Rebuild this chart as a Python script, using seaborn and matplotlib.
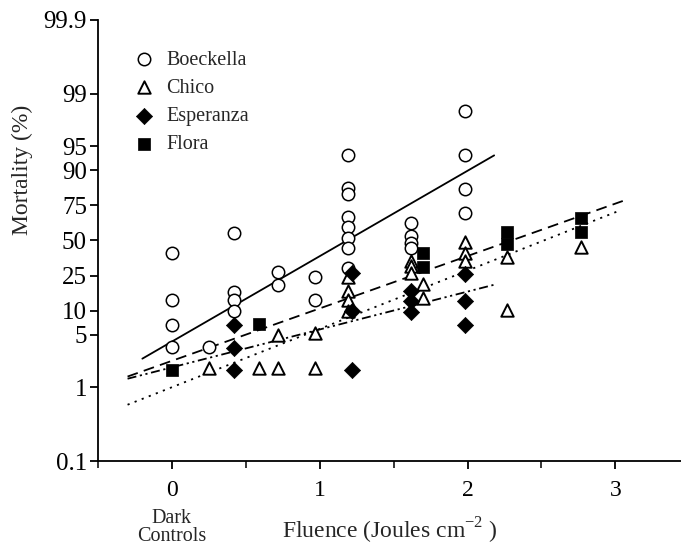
import numpy as np
import pandas as pd
import matplotlib
matplotlib.use("Agg")
import matplotlib.pyplot as plt
from matplotlib.ticker import FixedLocator, NullLocator
import seaborn as sns

# ---------------- data (x = fluence J cm^-2, y = mortality %) ----------------
boeck_x = [0, 0, 0, 0, 0.25, 0.42, 0.42, 0.42, 0.42, 0.72, 0.72, 0.97, 0.97,
           1.19, 1.19, 1.19, 1.19, 1.19, 1.19, 1.19, 1.19,
           1.62, 1.62, 1.62, 1.62, 1.98, 1.98, 1.98, 1.98]
boeck_y = [40.1, 13.6, 6.7, 3.4, 3.4, 56.2, 16.8, 13.6, 10.0, 26.9, 20.1, 23.9, 13.6,
           93.5, 84.0, 80.9, 67.3, 60.1, 51.6, 44.5, 29.7,
           63.7, 53.5, 48.0, 44.5, 98.3, 93.5, 83.6, 70.0]

chico_x = [0.25, 0.59, 0.72, 0.72, 0.97, 0.97, 1.19, 1.19, 1.19, 1.19,
           1.62, 1.62, 1.62, 1.70, 1.70, 1.98, 1.98, 1.98, 2.27, 2.27, 2.77]
chico_y = [1.8, 1.8, 5.0, 1.8, 5.2, 1.8, 24.4, 17.2, 13.6, 10.0,
           34.8, 30.7, 26.4, 20.6, 14.0, 48.7, 40.0, 34.3, 37.7, 10.3, 44.8]

esper_x = [0.42, 0.42, 0.42, 1.22, 1.22, 1.22, 1.62, 1.62, 1.62, 1.98, 1.98, 1.98]
esper_y = [6.7, 3.3, 1.7, 26.8, 10.0, 1.7, 17.0, 13.2, 9.5, 26.0, 13.0, 6.7]

flora_x = [0, 0.59, 1.70, 1.70, 2.27, 2.27, 2.77, 2.77]
flora_y = [1.7, 6.9, 40.1, 30.2, 57.0, 46.9, 66.7, 56.8]

# fitted regression lines (end points)
boeck_fit_x = [-0.20, 2.18]
boeck_fit_y = [2.41, 93.5]
flora_fit_x = [-0.30, 3.06]
flora_fit_y = [1.39, 77.8]
chico_fit_x = [-0.30, 3.03]
chico_fit_y = [0.58, 71.9]
esper_fit_x = [-0.30, 2.185]
esper_fit_y = [1.30, 20.1]

y_ticks = [0.1, 1, 5, 10, 25, 50, 75, 90, 95, 99, 99.9]
y_tick_labels = ["0.1", "1", "5", "10", "25", "50", "75", "90", "95", "99", "99.9"]
x_ticks = [0, 1, 2, 3]
x_minor = [-0.5, 0.5, 1.5, 2.5]

# ---------------- style ----------------
sns.set_style("ticks")
plt.rcParams["font.family"] = ["Liberation Serif", "DejaVu Serif"]
plt.rcParams["mathtext.fontset"] = "custom"
plt.rcParams["mathtext.rm"] = "Liberation Serif"

fig = plt.figure(figsize=(6.81, 5.45), dpi=100)
ax = fig.add_axes([98 / 681, 84 / 545, (681 - 98) / 681, 441 / 545])

ax.set_yscale("logit")

ms = 80
lw_m = 1.1
sns.scatterplot(x=boeck_x, y=np.array(boeck_y) / 100, marker="o", s=ms,
                facecolor="white", edgecolor="black", linewidth=lw_m,
                label="Boeckella", ax=ax, zorder=3)
sns.scatterplot(x=chico_x, y=np.array(chico_y) / 100, marker="^", s=ms,
                facecolor="white", edgecolor="black", linewidth=lw_m + 0.3,
                label="Chico", ax=ax, zorder=3)
sns.scatterplot(x=esper_x, y=np.array(esper_y) / 100, marker="D", s=ms * 0.85,
                color="black", edgecolor="black", linewidth=0.5,
                label="Esperanza", ax=ax, zorder=4)
sns.scatterplot(x=flora_x, y=np.array(flora_y) / 100, marker="s", s=ms * 0.95,
                color="black", edgecolor="black", linewidth=0.5,
                label="Flora", ax=ax, zorder=4)

lw = 1.3
sns.lineplot(x=boeck_fit_x, y=np.array(boeck_fit_y) / 100, color="black",
             linewidth=lw, linestyle="-", ax=ax, legend=False)
sns.lineplot(x=flora_fit_x, y=np.array(flora_fit_y) / 100, color="black",
             linewidth=lw, linestyle=(0, (6, 3.5)), ax=ax, legend=False)
sns.lineplot(x=chico_fit_x, y=np.array(chico_fit_y) / 100, color="black",
             linewidth=lw, linestyle=(0, (1.2, 3)), ax=ax, legend=False)
sns.lineplot(x=esper_fit_x, y=np.array(esper_fit_y) / 100, color="black",
             linewidth=lw, linestyle=(0, (5, 2, 1.2, 2, 1.2, 2)), ax=ax, legend=False)

ax.set_xlim(-0.5, 3.444)
ax.set_ylim(0.001, 0.999)
ax.yaxis.set_major_locator(FixedLocator([v / 100 for v in y_ticks]))
ax.set_yticklabels(y_tick_labels)
ax.yaxis.set_minor_locator(NullLocator())
ax.xaxis.set_major_locator(FixedLocator(x_ticks))
ax.xaxis.set_minor_locator(FixedLocator(x_minor))
ax.set_xticklabels([str(v) for v in x_ticks])

for s in ["top", "right"]:
    ax.spines[s].set_visible(False)
for s in ["left", "bottom"]:
    ax.spines[s].set_linewidth(1.3)
    ax.spines[s].set_color("black")

ax.tick_params(axis="y", which="major", direction="out", length=6, width=1.3,
               labelsize=18, pad=2, colors="black")
ax.tick_params(axis="x", which="major", direction="out", length=6, width=1.3,
               labelsize=17, pad=8, colors="black")
ax.tick_params(axis="x", which="minor", direction="out", length=5, width=1.3)

ax.set_ylabel("Mortality (%)", fontsize=17)
ax.yaxis.set_label_coords(-0.112, 0.66)

trans = matplotlib.transforms.blended_transform_factory(ax.transData, ax.transAxes)
ax.text(0, -0.131, "Dark", transform=trans, ha="center", va="center", fontsize=14.5)
ax.text(0, -0.172, "Controls", transform=trans, ha="center", va="center", fontsize=14.5)
ax.text(0.5, -0.158, "Fluence (Joules cm$^{-2}$ )", transform=ax.transAxes,
        ha="center", va="center", fontsize=17)

handles, labels = ax.get_legend_handles_labels()
ax.legend(handles, labels, loc="upper left", bbox_to_anchor=(0.055, 0.94),
          frameon=False, fontsize=14.5, handlelength=1.0, handletextpad=0.6,
          labelspacing=0.45, borderpad=0.2, borderaxespad=0)

fig.savefig("out.png", dpi=100)
